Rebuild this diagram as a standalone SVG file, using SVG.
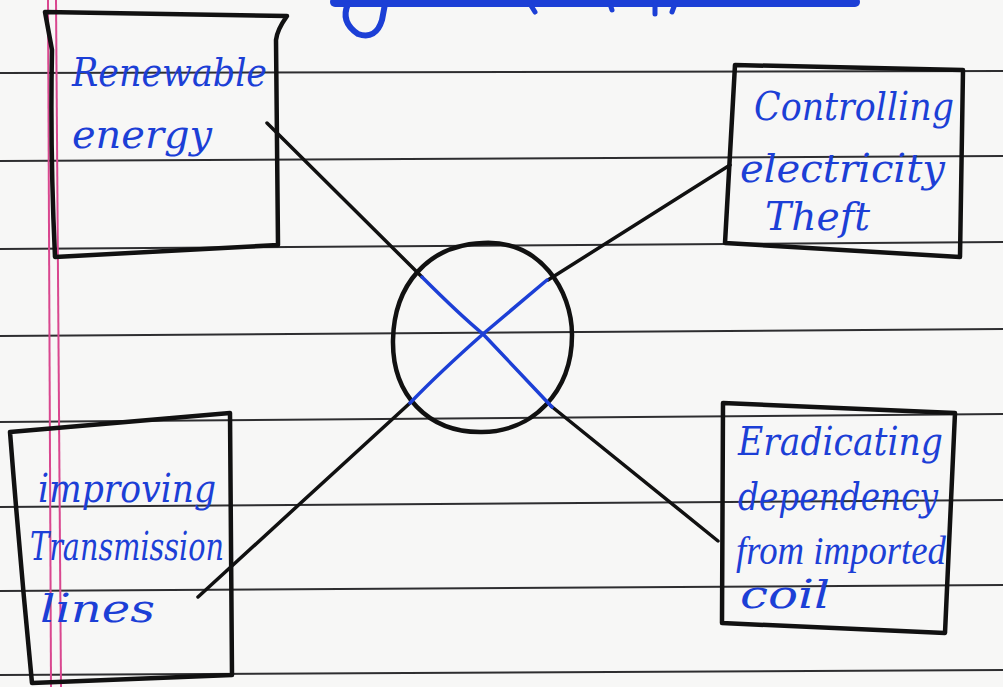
<svg xmlns="http://www.w3.org/2000/svg" width="1003" height="687" viewBox="0 0 1003 687">
<defs>
<style>
.paper{fill:#f7f7f6}
.rule{stroke:#2e2e30;stroke-width:2;fill:none}
.margin{stroke:#d9478f;stroke-width:2;fill:none}
.box{fill:none;stroke:#111;stroke-width:4.5;stroke-linejoin:round;stroke-linecap:round}
.conn{stroke:#111;stroke-width:3.5;fill:none;stroke-linecap:round}
.hand{font-family:"DejaVu Serif","Liberation Serif",serif;font-style:italic;font-size:40px;fill:#1c3fd6}
.narrow{font-family:"Liberation Serif","DejaVu Serif",serif}
.ink{stroke:#1c3fd6;fill:none;stroke-linecap:round;stroke-linejoin:round}
</style>
</defs>
<rect class="paper" x="0" y="0" width="1003" height="687"/>
<g id="ruling">
<path class="rule" d="M0 73 L1003 71"/>
<path class="rule" d="M0 161 L1003 156"/>
<path class="rule" d="M0 249 L1003 242"/>
<path class="rule" d="M0 336 L1003 329"/>
<path class="rule" d="M0 422 L1003 414"/>
<path class="rule" d="M0 507 L1003 500"/>
<path class="rule" d="M0 591 L1003 585"/>
<path class="rule" d="M0 675 L1003 670"/>
<path class="margin" d="M48 0 L51 687"/>
<path class="margin" d="M56 0 L61 687"/>
</g>
<g id="heading-remnant">
<path class="ink" stroke-width="10" d="M335 2 L855 2"/>
<path class="ink" stroke-width="6" d="M348 4 Q340 22 358 34 Q376 40 382 20 L385 4"/>
<path class="ink" stroke-width="5" d="M530 4 L535 12 M610 4 L612 10 M655 4 L655 14 M675 4 L672 12"/>
</g>
<g id="connectors">
<path class="conn" d="M267 123 L422 277"/>
<path class="conn" d="M730 165 L548 280"/>
<path class="conn" d="M410 403 L198 597"/>
<path class="conn" d="M551 406 L718 541"/>
</g>
<g id="hub">
<path class="box" d="M483 243 C540 240 572 290 572 335 C572 392 532 433 480 432 C428 432 392 395 393 340 C394 285 428 245 483 243 Z"/>
<path class="ink" stroke-width="3.5" d="M422 277 Q460 315 483 334 L552 407"/>
<path class="ink" stroke-width="3.5" d="M547 280 L483 334 Q440 372 410 403"/>
</g>
<g id="node-renewable">
<path class="box" d="M45 12 L287 16 Q277 30 276 40 L278 245 L55 257 Q50 150 52 50 Z"/>
<text class="hand" x="72" y="86" textLength="195" lengthAdjust="spacingAndGlyphs">Renewable</text>
<text class="hand" x="72" y="148" textLength="140" lengthAdjust="spacingAndGlyphs">energy</text>
</g>
<g id="node-theft">
<path class="box" d="M735 65 L963 70 L960 257 L725 243 Z"/>
<text class="hand" x="754" y="120" textLength="200" lengthAdjust="spacingAndGlyphs">Controlling</text>
<text class="hand" x="740" y="182" textLength="205" lengthAdjust="spacingAndGlyphs">electricity</text>
<text class="hand" x="765" y="230" textLength="105" lengthAdjust="spacingAndGlyphs">Theft</text>
</g>
<g id="node-transmission">
<path class="box" d="M10 432 L230 413 L232 675 L32 683 Q20 560 10 432 Z"/>
<text class="hand" x="38" y="502" textLength="178" lengthAdjust="spacingAndGlyphs">improving</text>
<text class="hand" x="30" y="560" textLength="194" lengthAdjust="spacingAndGlyphs">Transmission</text>
<text class="hand" x="40" y="622" textLength="115" lengthAdjust="spacingAndGlyphs">lines</text>
</g>
<g id="node-oil">
<path class="box" d="M723 403 L955 413 L945 633 L722 623 Z"/>
<text class="hand" x="738" y="455" textLength="205" lengthAdjust="spacingAndGlyphs">Eradicating</text>
<text class="hand" x="738" y="510" textLength="200" lengthAdjust="spacingAndGlyphs">dependency</text>
<text class="hand narrow" x="736" y="564" textLength="210" lengthAdjust="spacingAndGlyphs">from imported</text>
<text class="hand" x="740" y="608" textLength="90" lengthAdjust="spacingAndGlyphs">coil</text>
</g>
</svg>
